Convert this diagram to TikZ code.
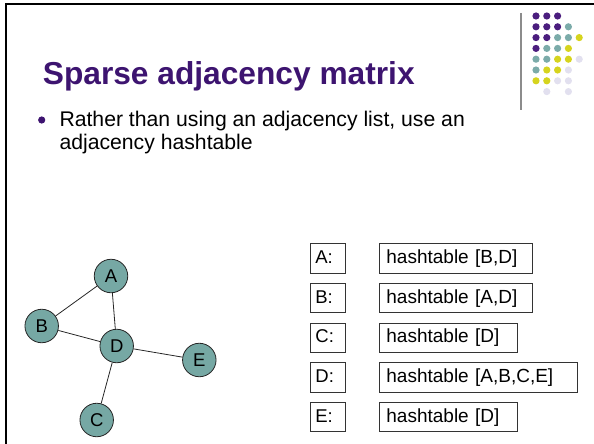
\documentclass[tikz,border=0pt]{standalone}
\usepackage{fontspec}
\setmainfont{Liberation Sans}
\definecolor{titlepurple}{HTML}{3D1470}
\definecolor{dotpurple}{HTML}{4B1D7E}
\definecolor{dotteal}{HTML}{7BABA9}
\definecolor{dotyellow}{HTML}{D6D41E}
\definecolor{dotlav}{HTML}{E2E0EF}
\definecolor{nodeteal}{HTML}{76A8A4}
\definecolor{rulegray}{HTML}{8C8C8C}
\tikzset{
  vertex/.style={circle, draw=black!85, line width=0.8pt, fill=nodeteal,
    minimum size=33.5pt, inner sep=0pt, font=\fontsize{18.5}{22}\selectfont},
  edge/.style={draw=black!85, line width=0.8pt},
  keybox/.style={draw=black!80, line width=0.8pt, anchor=west,
    minimum height=29.5pt, inner xsep=5pt, inner ysep=3.5pt,
    text width=25pt, align=left, text height=15pt, text depth=4.5pt,
    font=\fontsize{18.5}{22}\selectfont},
  valbox/.style={draw=black!80, line width=0.8pt, anchor=west,
    minimum height=29.5pt, inner xsep=7pt, inner ysep=3.5pt,
    align=left, text height=15pt, text depth=4.5pt,
    font=\fontsize{19}{22}\selectfont},
}
\begin{document}
\begin{tikzpicture}[x=1pt, y=-1pt]
\useasboundingbox (0,0) rectangle (594,444);

% slide frame: top and left edges
\draw[line width=2pt, black] (5.7,444) -- (5.7,4.3) -- (594,4.3);

% decorative dot grid with its rule
\draw[rulegray, line width=1.5pt] (521,13) -- (521,110);
\foreach \row/\cols in {
  0/{1/dotpurple,2/dotpurple,3/dotpurple},
  1/{1/dotpurple,2/dotpurple,3/dotpurple,4/dotteal},
  2/{1/dotpurple,2/dotpurple,3/dotteal,4/dotteal,5/dotyellow},
  3/{1/dotpurple,2/dotteal,3/dotteal,4/dotyellow},
  4/{1/dotteal,2/dotteal,3/dotyellow,4/dotyellow,5/dotlav},
  5/{1/dotteal,2/dotyellow,3/dotyellow,4/dotlav},
  6/{1/dotyellow,2/dotyellow,3/dotlav,4/dotlav},
  7/{2/dotlav,4/dotlav}} {
  \foreach \c/\col in \cols {
    \fill[\col] ({536+10.8*(\c-1)},{16+10.8*\row}) circle (3.6pt);
  }
}

% title and bullet text (the bullet node sits on its last baseline)
\node[anchor=base west, inner sep=0pt, text=titlepurple,
  font=\fontsize{31.7}{37}\selectfont\bfseries] (title) at (42.7,84.3)
  {Sparse adjacency matrix};
\fill[titlepurple] (41.7,120) circle (3.6pt);
\node[anchor=base west, inner sep=0pt, align=left,
  font=\fontsize{21.2}{22.7}\selectfont] (bullet) at (59.3,149.4)
  {Rather than using an adjacency list, use an\\adjacency hashtable};

% graph
\node[vertex] (A) at (111,276) {A};
\node[vertex] (B) at (41.7,326) {B};
\node[vertex] (D) at (116.7,346) {D};
\node[vertex] (E) at (199.3,360) {E};
\node[vertex] (C) at (96.7,420) {C};
\draw[edge] (A) -- (B);
\draw[edge] (A) -- (D);
\draw[edge] (B) -- (D);
\draw[edge] (D) -- (E);
\draw[edge] (D) -- (C);

% adjacency hashtables
\node[keybox] (kA) at (310,258.5) {A:};
\node[keybox] (kB) at (310,298.1) {B:};
\node[keybox] (kC) at (310,337.7) {C:};
\node[keybox] (kD) at (310,377.3) {D:};
\node[keybox] (kE) at (310,416.9) {E:};
\node[valbox, text width=139pt] (vA) at (379,258.5) {hashtable [B,D]};
\node[valbox, text width=139pt] (vB) at (379,298.1) {hashtable [A,D]};
\node[valbox, text width=124pt] (vC) at (379,337.7) {hashtable [D]};
\node[valbox, text width=184pt] (vD) at (379,377.3) {hashtable [A,B,C,E]};
\node[valbox, text width=124pt] (vE) at (379,416.9) {hashtable [D]};
\end{tikzpicture}
\end{document}
